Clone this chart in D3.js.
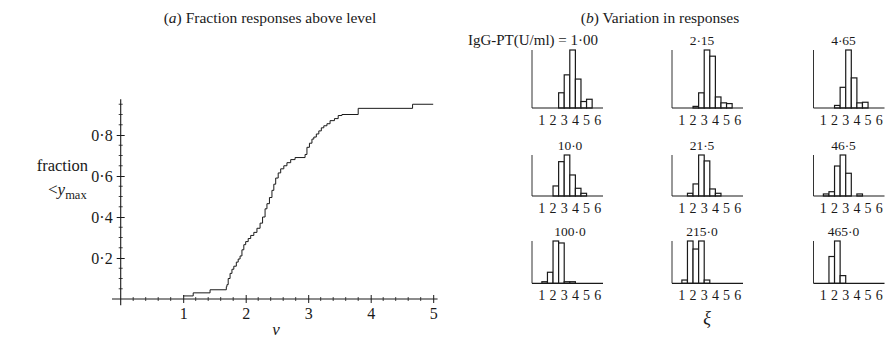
<!DOCTYPE html>
<html>
<head>
<meta charset="utf-8">
<script src="https://cdn.jsdelivr.net/npm/d3@7"></script>
<style>
  body { margin: 0; background: #fff; }
  text { font-family: "Liberation Serif", "Times New Roman", serif; fill: #1a1a1a; }
</style>
</head>
<body>
<svg id="chart" width="885" height="345"></svg>
<script>
// ---- (a) fraction of responses below y_max
const cdfV = [1.00, 1.16, 1.43, 1.69, 1.70, 1.72, 1.75, 1.78, 1.81, 1.85, 1.88, 1.91, 1.94, 1.97, 2.00,
              2.04, 2.08, 2.13, 2.18, 2.23, 2.27, 2.31, 2.34, 2.38, 2.42, 2.45, 2.48, 2.52, 2.56,
              2.61, 2.66, 2.72, 2.79, 2.95, 2.98, 3.02, 3.06, 3.09, 3.13, 3.17, 3.21, 3.25, 3.30,
              3.35, 3.42, 3.48, 3.54, 3.80, 4.67, 5.00];
const cdfF = [0.015, 0.03, 0.045, 0.06, 0.07, 0.10, 0.125, 0.145, 0.16, 0.18, 0.195, 0.21, 0.24, 0.265, 0.28,
              0.295, 0.31, 0.325, 0.345, 0.37, 0.40, 0.44, 0.465, 0.495, 0.53, 0.56, 0.59, 0.615, 0.635,
              0.65, 0.665, 0.68, 0.69, 0.705, 0.74, 0.76, 0.78, 0.79, 0.805, 0.82, 0.835, 0.845, 0.855,
              0.87, 0.88, 0.895, 0.90, 0.93, 0.95, 0.95];
const xTicksA = [1, 2, 3, 4, 5];
const yTicksA = [0.2, 0.4, 0.6, 0.8];

// ---- (b) histograms of xi, one per IgG-PT level (percent of responses per 0.5 bin)
const levels = ["1·00", "2·15", "4·65", "10·0", "21·5", "46·5", "100·0", "215·0", "465·0"];
const binStart = [2.5, 2.0, 2.0, 2.0, 1.5, 1.0, 1.0, 1.0, 1.5];
const binWidth = 0.5;
const pct = [
  [10.1, 22.0, 38.5, 19.2, 4.3, 5.8],
  [1.1, 10.3, 39.4, 35.2, 7.5, 3.5, 3.0],
  [2.1, 16.9, 47.4, 24.6, 4.2, 4.7],
  [8.6, 29.4, 35.1, 18.0, 6.6, 2.3],
  [2.7, 12.0, 40.8, 34.9, 7.0, 2.7],
  [2.0, 4.2, 29.4, 40.2, 22.3, 0, 2.0],
  [1.6, 11.2, 42.9, 40.9, 1.6, 1.6],
  [2.6, 33.7, 27.3, 33.7, 2.6],
  [34.9, 55.1, 10.0]
];
const xiTicks = [1, 2, 3, 4, 5, 6];

const svg = d3.select("#chart");
const ink = "#1a1a1a";

// ================= panel (a) =================
const x = d3.scaleLinear().domain([0, 5]).range([120.7, 433.2]);
const y = d3.scaleLinear().domain([0, 1]).range([299, 94]);

svg.append("text").attr("x", 270).attr("y", 23).attr("text-anchor", "middle")
  .style("font-size", "15.5px")
  .html('(<tspan font-style="italic">a</tspan>) Fraction responses above level');

const ga = svg.append("g");
// axis lines
ga.append("line").attr("x1", x(-0.14)).attr("x2", x(5.07)).attr("y1", y(0)).attr("y2", y(0))
  .attr("stroke", ink).attr("stroke-width", 1.1);
ga.append("line").attr("x1", x(0)).attr("x2", x(0)).attr("y1", y(-0.03)).attr("y2", y(0.975))
  .attr("stroke", ink).attr("stroke-width", 1.1);

// x ticks
const xAxis = d3.axisBottom(x).tickValues(xTicksA).tickSize(4).tickPadding(5).tickFormat(d3.format("d"));
const gx = ga.append("g").attr("transform", `translate(0,${y(0)})`).call(xAxis);
gx.select(".domain").remove();
gx.selectAll(".tick line").attr("y1", -4).attr("stroke", ink);
gx.selectAll(".tick text").style("font-size", "16px").style("font-family", null).attr("fill", ink);
const xMinor = d3.range(1, 26).map(i => i * 0.2).filter(v => Math.abs(v - Math.round(v)) > 1e-6);
ga.selectAll(".xminor").data(xMinor).join("line")
  .attr("x1", d => x(d)).attr("x2", d => x(d)).attr("y1", y(0) - 2).attr("y2", y(0) + 2)
  .attr("stroke", ink).attr("stroke-width", 0.8);

// y ticks
const yAxis = d3.axisLeft(y).tickValues(yTicksA).tickSize(4).tickPadding(4)
  .tickFormat(d => d3.format(".1f")(d).replace(".", "·"));
const gy = ga.append("g").attr("transform", `translate(${x(0)},0)`).call(yAxis);
gy.select(".domain").remove();
gy.selectAll(".tick line").attr("x1", 4).attr("stroke", ink);
gy.selectAll(".tick text").style("font-size", "16px").style("font-family", null).attr("fill", ink);
const yMinor = d3.range(1, 20).map(i => i * 0.05).filter(v => Math.abs(v * 5 - Math.round(v * 5)) > 1e-6);
ga.selectAll(".yminor").data(yMinor).join("line")
  .attr("x1", x(0) - 2).attr("x2", x(0) + 2).attr("y1", d => y(d)).attr("y2", d => y(d))
  .attr("stroke", ink).attr("stroke-width", 0.8);

// axis labels
svg.append("text").attr("x", 88).attr("y", 171).attr("text-anchor", "end")
  .style("font-size", "16.5px").text("fraction");
svg.append("text").attr("x", 48).attr("y", 195).style("font-size", "17px")
  .html('&lt;<tspan font-style="italic">y</tspan><tspan dy="4" font-size="12.5px">max</tspan>');
svg.append("text").attr("x", 276).attr("y", 335).attr("text-anchor", "middle")
  .style("font-size", "17px").style("font-style", "italic").text("v");

// step curve
const pts = cdfV.map((v, i) => [v, cdfF[i]]);
ga.append("path").datum(pts)
  .attr("d", d3.line().x(d => x(d[0])).y(d => y(d[1])).curve(d3.curveStepAfter))
  .attr("fill", "none").attr("stroke", ink).attr("stroke-width", 1);

// ================= panel (b) =================
svg.append("text").attr("x", 660).attr("y", 23).attr("text-anchor", "middle")
  .style("font-size", "15.5px")
  .html('(<tspan font-style="italic">b</tspan>) Variation in responses');

const colX = [532, 672, 813.5];
const labX = [38, 30, 30];
const rowBase = [108, 196, 283.3];
const rowTop = [50, 155, 241];
const xs = d3.scaleLinear().domain([0, 6.4]).range([-1.3, 70.2]);

levels.forEach((lev, k) => {
  const r = Math.floor(k / 3), c = k % 3;
  const g = svg.append("g").attr("transform", `translate(${colX[c]},${rowBase[r]})`);
  const vals = pct[k];
  const ys = d3.scaleLinear().domain([0, d3.max(vals)]).range([0, rowTop[r] - rowBase[r]]);
  const bins = vals.map((v, i) => ({ x0: binStart[k] + i * binWidth, x1: binStart[k] + (i + 1) * binWidth, v }))
    .filter(b => b.v > 0);

  g.selectAll("rect").data(bins).join("rect")
    .attr("x", b => xs(b.x0)).attr("width", b => xs(b.x1) - xs(b.x0))
    .attr("y", b => ys(b.v)).attr("height", b => -ys(b.v))
    .attr("fill", "#fff").attr("stroke", ink).attr("stroke-width", 1.2);

  g.append("line").attr("x1", 0).attr("x2", 0).attr("y1", 0).attr("y2", rowTop[r] - rowBase[r])
    .attr("stroke", "#333").attr("stroke-width", 1);
  g.append("line").attr("x1", 0).attr("x2", 71).attr("y1", 0).attr("y2", 0)
    .attr("stroke", ink).attr("stroke-width", 1.2);

  g.selectAll(".lab").data(xiTicks).join("text")
    .attr("x", d => xs(d)).attr("y", 17).attr("text-anchor", "middle")
    .style("font-size", "14px").text(d => d);

  const title = g.append("text").attr("y", rowTop[r] - rowBase[r] - 5).style("font-size", "13.5px");
  if (k === 0) {
    title.attr("x", 66).attr("text-anchor", "end").style("font-size", "15px")
      .text("IgG-PT(U/ml) = " + lev);
  } else {
    title.attr("x", labX[c]).attr("text-anchor", "middle").text(lev);
  }
});

svg.append("text").attr("x", 707).attr("y", 324).attr("text-anchor", "middle")
  .style("font-size", "18px").style("font-style", "italic").text("ξ");
</script>
</body>
</html>
